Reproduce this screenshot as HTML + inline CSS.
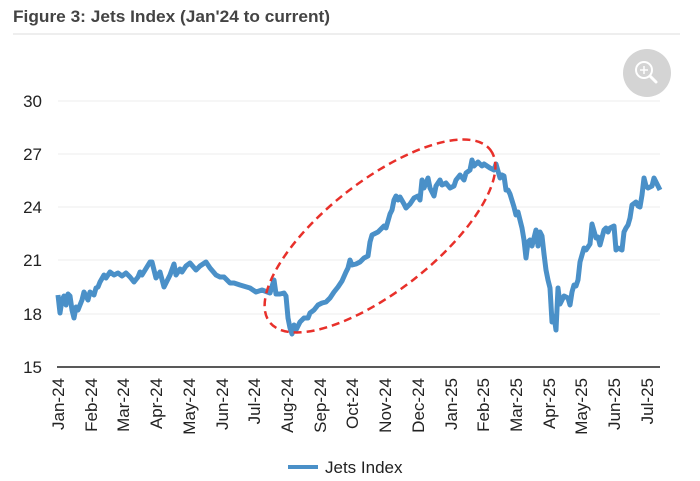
<!DOCTYPE html>
<html><head><style>
body{margin:0;background:#fff;width:700px;height:481px;overflow:hidden;font-family:"Liberation Sans",sans-serif}
</style></head><body>
<svg width="700" height="481" viewBox="0 0 700 481" xmlns="http://www.w3.org/2000/svg" style="position:absolute;left:0;top:0">
<text x="13" y="22" font-size="17" font-weight="bold" fill="#444" font-family="Liberation Sans, sans-serif" textLength="317" lengthAdjust="spacingAndGlyphs">Figure 3: Jets Index (Jan'24 to current)</text>
<line x1="13" y1="34" x2="680" y2="34" stroke="#ddd" stroke-width="1"/>
<circle cx="647" cy="73" r="24" fill="#d4d4d4"/>
<circle cx="644" cy="70" r="8" fill="none" stroke="#fff" stroke-width="2"/>
<line x1="650" y1="76" x2="656" y2="82" stroke="#fff" stroke-width="3" stroke-linecap="round"/>
<line x1="640" y1="70" x2="648" y2="70" stroke="#fff" stroke-width="1.5"/>
<line x1="644" y1="66" x2="644" y2="74" stroke="#fff" stroke-width="1.5"/>
<g stroke="#eee" stroke-width="1">
<line x1="58" y1="101" x2="660" y2="101"/><line x1="58" y1="154" x2="660" y2="154"/>
<line x1="58" y1="207" x2="660" y2="207"/><line x1="58" y1="260" x2="660" y2="260"/>
<line x1="58" y1="314" x2="660" y2="314"/></g>
<line x1="57" y1="367" x2="660" y2="367" stroke="#222" stroke-width="1.5"/>
<g font-size="17" fill="#222" text-anchor="end" font-family="Liberation Sans, sans-serif">
<text x="42" y="107">30</text><text x="42" y="160">27</text><text x="42" y="213">24</text>
<text x="42" y="266">21</text><text x="42" y="320">18</text><text x="42" y="373">15</text></g>
<g font-size="17" fill="#222" text-anchor="end" font-family="Liberation Sans, sans-serif">
<text transform="translate(64,378) rotate(-90)">Jan-24</text>
<text transform="translate(97,378) rotate(-90)">Feb-24</text>
<text transform="translate(129,378) rotate(-90)">Mar-24</text>
<text transform="translate(162,378) rotate(-90)">Apr-24</text>
<text transform="translate(195,378) rotate(-90)">May-24</text>
<text transform="translate(228,378) rotate(-90)">Jun-24</text>
<text transform="translate(260,378) rotate(-90)">Jul-24</text>
<text transform="translate(293,378) rotate(-90)">Aug-24</text>
<text transform="translate(326,378) rotate(-90)">Sep-24</text>
<text transform="translate(358,378) rotate(-90)">Oct-24</text>
<text transform="translate(391,378) rotate(-90)">Nov-24</text>
<text transform="translate(424,378) rotate(-90)">Dec-24</text>
<text transform="translate(457,378) rotate(-90)">Jan-25</text>
<text transform="translate(489,378) rotate(-90)">Feb-25</text>
<text transform="translate(522,378) rotate(-90)">Mar-25</text>
<text transform="translate(555,378) rotate(-90)">Apr-25</text>
<text transform="translate(587,378) rotate(-90)">May-25</text>
<text transform="translate(620,378) rotate(-90)">Jun-25</text>
<text transform="translate(653,378) rotate(-90)">Jul-25</text></g>
<polyline fill="none" stroke="#4a90c8" stroke-width="5" stroke-linejoin="round" points="58,295 60,313 62,300 64,296 66,305 68,294 70,296 72,310 74,318 76,307 78,310 82,300 84,292 86,296 88,300 90,292 94,295 96,288 98,287 100,282 104,275 106,278 110,272 114,275 118,273 122,276 126,273 130,277 134,282 138,277 140,272 142,275 150,262 152,262 154,270 156,278 160,272 164,287 170,275 174,264 176,275 180,269 182,272 186,266 190,263 196,270 200,266 206,262 210,268 216,275 220,277 224,277 230,283 234,283 240,285 250,288 256,292 262,290 270,293 274,280 276,294 280,294 284,293 286,296 288,318 290,328 292,334 294,325 296,330 300,322 304,318 308,318 310,313 314,310 318,305 322,303 326,302 330,298 334,292 338,287 342,281 346,272 348,268 350,260 352,265 356,264 360,262 364,258 368,256 370,242 372,235 378,232 380,230 384,226 386,228 390,214 392,210 394,200 396,196 398,200 400,197 404,204 406,208 410,204 414,198 418,196 420,200 422,180 424,188 428,178 430,188 434,196 436,186 440,180 442,185 446,183 450,188 454,186 456,180 460,175 464,180 466,173 470,170 472,160 474,166 478,162 482,166 484,164 490,168 494,170 496,164 500,178 502,175 504,176 506,190 508,190 510,194 514,207 516,215 518,212 522,228 524,240 526,258 528,242 530,240 532,246 536,230 538,246 540,232 542,236 544,254 546,270 548,280 550,288 552,322 554,316 556,330 558,288 560,304 562,300 564,296 568,298 570,305 572,292 574,285 576,286 578,280 580,262 584,248 586,250 590,244 592,224 596,238 598,237 600,245 604,230 606,228 608,232 610,228 614,226 616,250 618,248 622,250 624,232 626,228 628,225 630,218 632,205 636,202 638,206 640,207 642,195 644,178 646,186 648,188 652,186 654,178 656,182 658,186 660,190"/>
<ellipse cx="380" cy="236" rx="140" ry="55" transform="rotate(-38 380 236)" fill="none" stroke="#e8302a" stroke-width="2.5" stroke-dasharray="8,5"/>
<line x1="288" y1="467" x2="318" y2="467" stroke="#4a90c8" stroke-width="4"/>
<text x="325" y="473" font-size="17" fill="#222" font-family="Liberation Sans, sans-serif">Jets Index</text>
</svg>
</body></html>
